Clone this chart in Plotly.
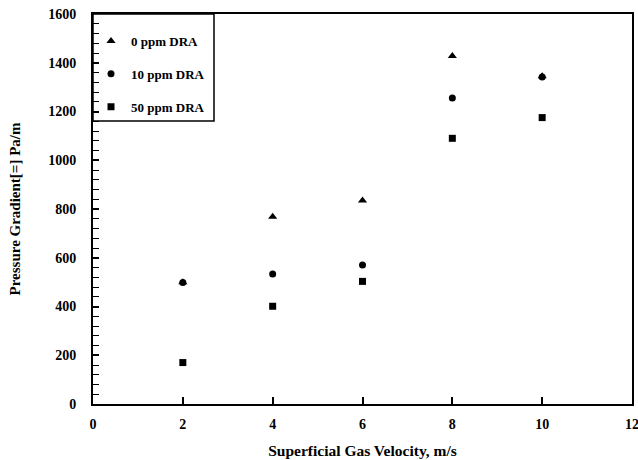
import plotly.graph_objects as go

velocity = [2, 4, 6, 8, 10]
dra_0 = [500, 768, 835, 1428, 1345]
dra_10 = [498, 533, 570, 1255, 1342]
dra_50 = [170, 401, 503, 1090, 1175]
series_names = ["0 ppm DRA", "10 ppm DRA", "50 ppm DRA"]
x_ticks = [0, 2, 4, 6, 8, 10, 12]
y_ticks = [0, 200, 400, 600, 800, 1000, 1200, 1400, 1600]

FONT = "Liberation Serif"
PLOT_W = 638 - 93 - 6
PLOT_H = 460 - 14 - 56

fig = go.Figure()
symbols = ["triangle-up", "circle", "square"]
sizes = [8, 7, 7]
for i, (name, vals) in enumerate(zip(series_names, [dra_0, dra_10, dra_50])):
    fig.add_trace(go.Scatter(
        x=velocity, y=vals, mode="markers", name=f"<b>{name}</b>",
        legendgroup=f"g{i}",
        marker=dict(symbol=symbols[i], size=sizes[i], color="black"),
    ))

# legend frame
fig.add_shape(type="rect", xref="paper", yref="paper",
              x0=0, x1=121 / PLOT_W, y0=1 - 107 / PLOT_H, y1=1,
              line=dict(color="black", width=1.5), fillcolor="rgba(0,0,0,0)")

fig.update_layout(
    width=638, height=460,
    margin=dict(l=93, r=6, t=14, b=56, autoexpand=False),
    paper_bgcolor="white", plot_bgcolor="white",
    font=dict(family=FONT, color="black", size=13),
    showlegend=True,
    legend=dict(
        x=-2 / PLOT_W, y=1 - 12 / PLOT_H, xanchor="left", yanchor="top",
        borderwidth=0, bgcolor="rgba(0,0,0,0)",
        font=dict(family=FONT, size=13),
        tracegroupgap=13,
        itemwidth=30,
    ),
)
fig.update_xaxes(
    range=[0, 12], tickvals=x_ticks, ticktext=[f"<b>{v}</b>" for v in x_ticks],
    showgrid=False, zeroline=False, automargin=False,
    showline=True, linecolor="black", linewidth=2, mirror=True,
    ticks="inside", ticklen=7, tickwidth=1.5, tickcolor="black",
    ticklabelstandoff=6, ticklabeloverflow="allow",
    tickfont=dict(family=FONT, size=14),
    title=dict(text="<b>Superficial Gas Velocity, m/s</b>", standoff=14,
               font=dict(family=FONT, size=15.5)),
)
fig.update_yaxes(
    range=[0, 1600], tickvals=y_ticks, ticktext=[f"<b>{v}</b>" for v in y_ticks],
    showgrid=False, zeroline=False, automargin=False,
    showline=True, linecolor="black", linewidth=2, mirror=True,
    ticks="inside", ticklen=6, tickwidth=1.5, tickcolor="black",
    minor=dict(dtick=40, ticks="inside", ticklen=6, tickwidth=1, tickcolor="black", showgrid=False),
    ticklabelstandoff=12, ticklabeloverflow="allow",
    tickfont=dict(family=FONT, size=14),
    title=dict(text="<b>Pressure Gradient[=] Pa/m</b>", standoff=24,
               font=dict(family=FONT, size=15)),
)

fig.write_html("out.html", config={"displayModeBar": False},
               post_script="document.body.style.margin='0';")
